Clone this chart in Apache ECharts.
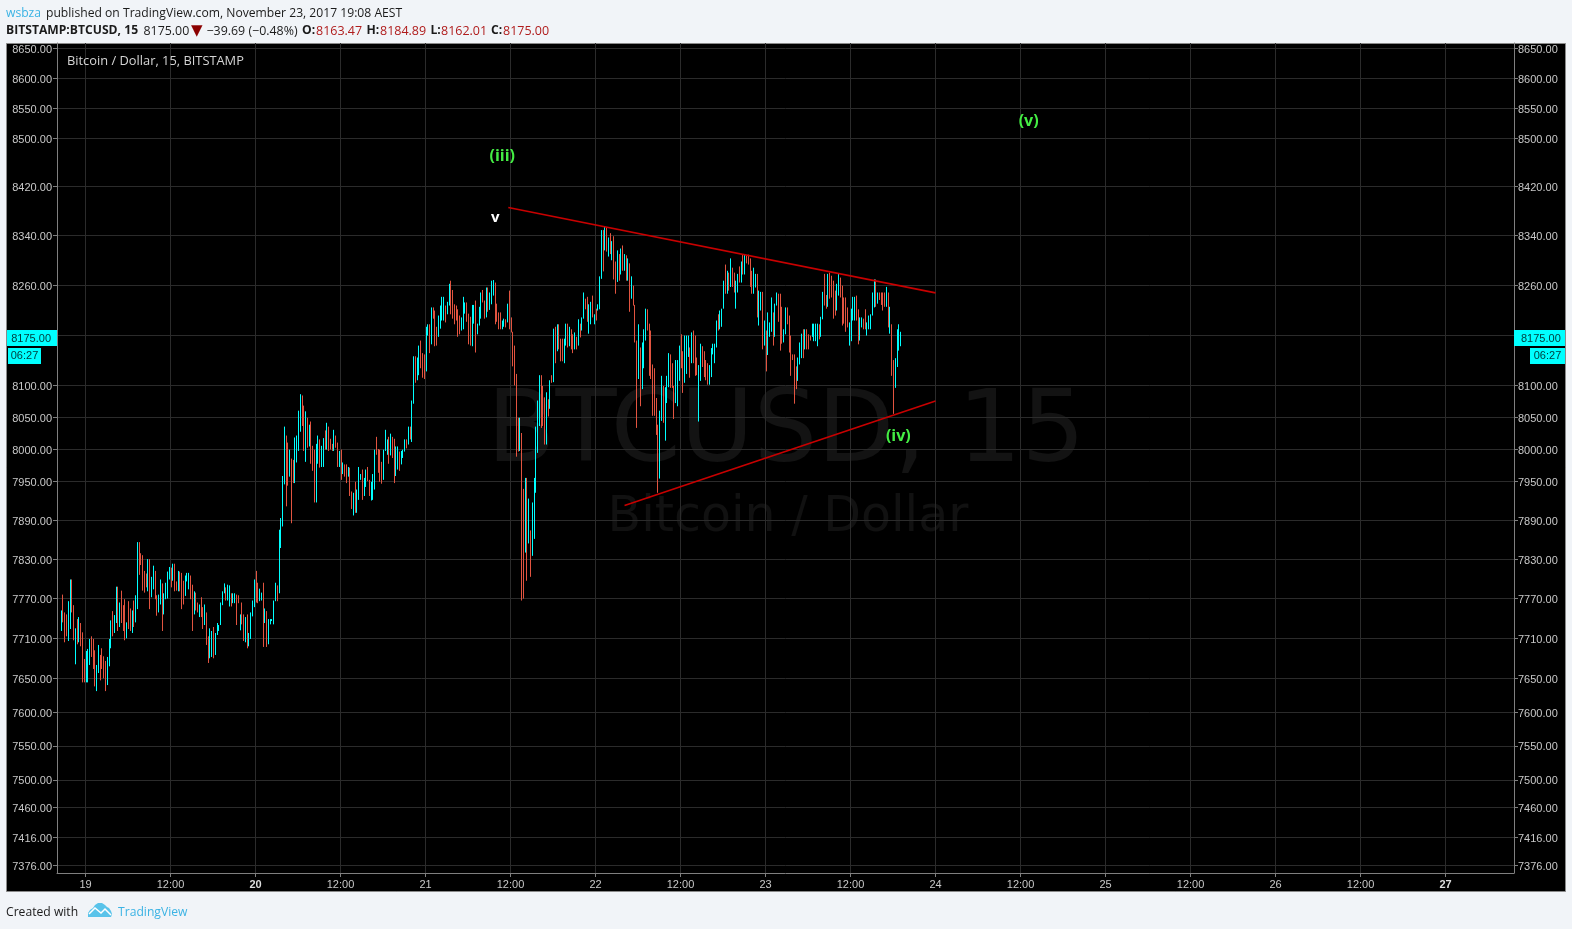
<!DOCTYPE html>
<html>
<head>
<meta charset="utf-8">
<title>BITSTAMP:BTCUSD, 15</title>
<style>
html,body{margin:0;padding:0;background:#f1f4f8;width:1572px;height:929px;overflow:hidden}
#chart{width:1572px;height:929px}
</style>
<script src="https://cdn.jsdelivr.net/npm/echarts@6/dist/echarts.min.js"></script>
</head>
<body>
<div id="chart"></div>
<script>
// 15-minute bars, first bar 18 Nov 2017 20:30 AEST
var highs = [
7752,7776,7749,7746,7766,7799,7799,7760,7725,7739,
7742,7733,7719,7679,7691,7694,7709,7713,7709,7692,
7670,7700,7685,7695,7683,7676,7682,7709,7737,7751,
7745,7788,7788,7764,7782,7760,7769,7734,7766,7755,
7752,7767,7775,7856,7856,7839,7836,7812,7808,7830,
7830,7803,7820,7812,7775,7776,7799,7793,7778,7794,
7811,7818,7817,7823,7823,7796,7812,7811,7809,7797,
7805,7809,7809,7805,7791,7781,7779,7764,7761,7772,
7757,7761,7749,7713,7725,7721,7727,7718,7733,7730,
7764,7781,7793,7787,7791,7790,7778,7778,7778,7776,
7775,7746,7764,7746,7742,7746,7718,7749,7767,7799,
7812,7794,7785,7779,7794,7755,7751,7739,7739,7739,
7767,7794,7790,7875,7893,7958,8035,8021,8010,7999,
7985,7983,8018,8021,8060,8086,8084,8068,8059,8049,
8038,8043,8005,7999,8008,8021,8015,8005,8017,8029,
8041,8035,8016,8008,8030,8021,8010,7997,7999,7979,
7976,7976,7972,7971,7934,7932,7949,7937,7972,7961,
7968,7955,7968,7972,7952,7949,7961,7999,8019,8000,
7999,7980,7999,8030,8015,8019,8024,8019,8016,8004,
8004,7996,7997,7999,8015,8015,8035,8035,8076,8146,
8146,8144,8163,8171,8151,8149,8193,8197,8197,8224,
8224,8219,8193,8211,8227,8241,8241,8227,8233,8262,
8267,8252,8229,8227,8221,8211,8208,8241,8232,8232,
8214,8209,8228,8228,8235,8198,8225,8248,8252,8235,
8256,8256,8248,8267,8268,8264,8230,8216,8216,8203,
8206,8205,8230,8251,8208,8185,8163,8118,8049,8049,
8025,7938,7955,7955,7923,7874,7917,7955,8035,8076,
8116,8116,8099,8081,8089,8078,8108,8116,8190,8193,
8197,8197,8174,8174,8174,8198,8198,8193,8189,8181,
8184,8177,8205,8198,8208,8248,8238,8241,8229,8233,
8243,8213,8222,8229,8274,8349,8349,8354,8354,8337,
8344,8331,8339,8298,8316,8310,8319,8324,8310,8308,
8303,8295,8274,8259,8228,8171,8197,8160,8168,8189,
8222,8221,8198,8187,8133,8127,8080,8038,8060,8115,
8099,8097,8115,8151,8149,8135,8099,8140,8140,8163,
8181,8154,8179,8179,8179,8160,8184,8187,8179,8144,
8132,8166,8162,8154,8140,8135,8132,8159,8166,8166,
8203,8213,8219,8222,8267,8293,8283,8280,8303,8288,
8280,8267,8278,8290,8298,8309,8309,8308,8309,8303,
8283,8288,8278,8278,8251,8249,8249,8203,8187,8216,
8200,8240,8216,8230,8248,8246,8246,8225,8189,8224,
8224,8211,8179,8149,8149,8130,8144,8168,8182,8189,
8189,8189,8181,8179,8198,8198,8198,8198,8197,8209,
8249,8278,8244,8278,8280,8275,8267,8251,8262,8278,
8272,8259,8240,8240,8224,8200,8222,8241,8241,8243,
8221,8208,8208,8206,8221,8200,8211,8213,8248,8269,
8269,8248,8248,8248,8248,8248,8257,8248,8225,8197,
8140,8143,8189,8197,8185];
var lows = [
7721,7734,7704,7713,7706,7724,7749,7707,7671,7701,
7704,7698,7644,7644,7644,7644,7670,7682,7664,7638,
7631,7658,7647,7664,7650,7631,7640,7668,7695,7713,
7718,7733,7721,7727,7733,7721,7707,7710,7724,7721,
7718,7727,7734,7754,7806,7821,7782,7779,7787,7781,
7754,7772,7784,7769,7744,7749,7761,7721,7746,7769,
7770,7799,7787,7797,7781,7782,7781,7781,7754,7761,
7774,7796,7784,7769,7721,7746,7752,7749,7742,7742,
7724,7730,7700,7673,7680,7682,7680,7685,7715,7721,
7730,7760,7778,7767,7767,7758,7758,7763,7763,7730,
7763,7722,7731,7706,7704,7695,7698,7709,7743,7757,
7764,7763,7766,7767,7697,7733,7697,7701,7731,7736,
7731,7766,7766,7778,7847,7880,7945,7911,7943,7957,
7885,7947,7947,7979,7997,8027,8036,7997,7980,8002,
8004,7977,7966,7917,7917,7977,7971,7972,7972,7999,
7999,7997,7999,7997,7997,8002,7972,7972,7952,7961,
7957,7947,7957,7927,7907,7897,7901,7901,7921,7952,
7921,7927,7941,7950,7927,7920,7921,7937,7991,7963,
7949,7946,7952,7997,7991,7977,7990,7986,7947,7958,
7968,7966,7976,7986,7996,8001,8007,8015,8011,8071,
8104,8108,8116,8127,8112,8110,8122,8179,8151,8165,
8206,8162,8163,8177,8190,8203,8203,8200,8213,8227,
8213,8206,8197,8203,8177,8181,8187,8189,8214,8201,
8165,8163,8162,8198,8152,8181,8195,8206,8232,8206,
8208,8217,8220,8229,8243,8197,8201,8189,8189,8189,
8193,8192,8200,8189,8184,8130,8100,7988,7996,7997,
7767,7770,7840,7797,7854,7803,7835,7861,7932,7994,
8036,8033,8036,8007,8007,8051,8063,8104,8105,8135,
8154,8157,8138,8138,8135,8163,8160,8162,8157,8151,
8157,8157,8163,8176,8187,8206,8221,8201,8182,8197,
8208,8197,8203,8219,8221,8270,8282,8316,8314,8306,
8310,8300,8269,8246,8265,8267,8277,8283,8283,8267,
8267,8217,8238,8227,8168,8033,8110,8067,8094,8127,
8171,8187,8115,8110,8052,8052,8022,7932,7954,8044,
8041,8013,8072,8097,8096,8096,8047,8072,8067,8107,
8127,8088,8104,8118,8145,8112,8135,8135,8115,8116,
8043,8107,8129,8113,8108,8101,8101,8113,8149,8135,
8160,8187,8189,8193,8222,8246,8246,8251,8257,8257,
8248,8222,8248,8264,8264,8277,8277,8295,8293,8257,
8246,8246,8256,8208,8195,8219,8157,8163,8122,8148,
8177,8185,8163,8177,8227,8201,8155,8166,8168,8181,
8197,8152,8115,8140,8071,8094,8107,8133,8143,8143,
8157,8157,8157,8171,8177,8170,8170,8162,8173,8177,
8205,8227,8222,8225,8238,8240,8206,8211,8219,8243,
8240,8195,8198,8185,8192,8163,8170,8203,8203,8203,
8165,8171,8192,8189,8189,8179,8189,8189,8211,8224,
8225,8230,8236,8228,8219,8225,8225,8192,8182,8115,
8055,8096,8129,8155,8162];
// u = up bar (cyan), d = down bar (red)
var directions = [
"u d d d u u d d u d","u d d d u u u d d d","u u d d d d u u u d","u u d u d d d u d d",
"u d u u d d d d d u","d u u d d u u d u u","u u d u d d u d d d","u u u d d u d d u d",
"d u d d u u d u u u","u u u d u u d u u d","d u d d u d u u u u","d d u u d u d u u u",
"u u d u u u u d d u","d d u u u u d d u d","u d d d u u d u u d","u d d d u d d u d u",
"d d u d d u d u u u","d u u d d u u u d d","d d u u u d u d d u","u d u u u d u d u u",
"d u u d d d u u d u","d d d u u u u d u u","d d d d d d u u u d","d d u u d u u u d d",
"u d u u u d d d d u","u d u d d d d d d u","d d u d u d u u u u","u d d d u d u d u d",
"u d d d u u d u d d","u d u d u u d d u u","d u d u u u d u d u","d u d d u d u d u d",
"u d u d d d u d u u","u d d d d d d d u u","d u u u d d d u u u","d d u u u d u d d d",
"u u d d d d u u u u","u d u u u d u d u d","d u u d u d u d d d","d u u d u u d u d u",
"u u d u u d d d u u","d d d d d d u u u d","u d d d u u u u d u","u d d u d d d d u u",
"d d d d d u u u u d","d u u d d u u u u u","d u d d d d u d u d","d u u u u"
].join(" ").split(" ");
if (highs.length !== lows.length || highs.length !== directions.length) {
  throw new Error("lengths " + highs.length + " " + lows.length + " " + directions.length);
}
var priceTicks = [8650,8600,8550,8500,8420,8340,8260,8180,8100,8050,8000,7950,7890,7830,7770,7710,7650,7600,7550,7500,7460,7416,7376];
var timeTickLabels = ["19","12:00","20","12:00","21","12:00","22","12:00","23","12:00","24","12:00","25","12:00","26","12:00","27"];
var boldTimeLabels = ["20","27"];
var resistanceLine = [[new Date(2017,10,21,11,41).getTime(),8385.8],[new Date(2017,10,24,0,0).getTime(),8247.4]];
var supportLine = [[new Date(2017,10,22,4,6).getTime(),7912.5],[new Date(2017,10,24,0,0).getTime(),8075.2]];
var waveLabels = [
 {name:"(iii)",value:[new Date(2017,10,21,10,50).getTime(),8469],color:"#44ee44"},
 {name:"(v)",value:[new Date(2017,10,24,13,9).getTime(),8527],color:"#44ee44"},
 {name:"(iv)",value:[new Date(2017,10,23,18,45).getTime(),8019.5],color:"#44ee44"},
 {name:"v",value:[new Date(2017,10,21,9,51).getTime(),8369.3],color:"#ffffff"}
];
var lastPrice = 8175;

var firstBar = new Date(2017,10,18,20,30).getTime();
var QUARTER = 15*60*1000, DAY0 = new Date(2017,10,19).getTime(), H12 = 12*3600*1000;
var bars = highs.map(function(h,i){ return [firstBar+i*QUARTER, h, lows[i], directions[i]==="u"?1:0]; });
var timeTicks = timeTickLabels.map(function(_,i){ return DAY0+i*H12; });
var UI = "'Liberation Sans', Arial, sans-serif";
var HEAD = "'Open Sans', sans-serif";
var chart = echarts.init(document.getElementById("chart"), null, {renderer:"canvas"});
function priceAxis(position, grid, margin){
  return {type:"log",logBase:10,position:position,min:7365,max:8659.3,scale:true,
    axisLine:{show:true,onZero:false,lineStyle:{color:"#7f7f7f",width:1}},
    axisTick:{show:true,length:4,lineStyle:{color:"#7f7f7f"},customValues:priceTicks},
    axisLabel:{show:true,color:"#c8c8c8",fontFamily:UI,fontSize:11,margin:margin,customValues:priceTicks,
      formatter:function(v){return "{p|"+Math.round(v).toFixed(2)+"}";},
      rich:{p:{color:"#c8c8c8",fontFamily:UI,fontSize:11,padding:[3,0,0,0]}}},
    minorTick:{show:false},minorSplitLine:{show:false},
    splitLine:{show:grid,lineStyle:{color:"#2b2b2b",width:1}}};
}
var option = {
  animation:false,
  backgroundColor:"#f1f4f8",
  grid:{left:57,right:58,top:43,bottom:56,containLabel:false},
  xAxis:{type:"value",min:new Date(2017,10,18,19,58,30).getTime(),max:new Date(2017,10,27,9,40).getTime(),
    axisLine:{show:true,onZero:false,lineStyle:{color:"#7f7f7f"}},
    axisTick:{show:true,length:4,lineStyle:{color:"#7f7f7f"},customValues:timeTicks},
    axisLabel:{show:true,color:"#c8c8c8",fontFamily:UI,fontSize:11,margin:6,customValues:timeTicks,hideOverlap:false,
      formatter:function(v){var i=Math.round((v-DAY0)/H12);var s=timeTickLabels[i];return boldTimeLabels.indexOf(s)>=0?"{b|"+s+"}":s;},
      rich:{b:{fontWeight:"bold",fontFamily:UI,fontSize:11,color:"#dcdcdc"}}},
    splitLine:{show:true,lineStyle:{color:"#2b2b2b",width:1}}},
  yAxis:[priceAxis("left",true,5),priceAxis("right",false,4)],
  series:[
    {type:"custom",name:"BTCUSD",xAxisIndex:0,yAxisIndex:0,data:bars,encode:{x:0,y:[1,2]},clip:true,z:3,
     renderItem:function(params,api){
       var t=api.value(0),a=api.coord([t,api.value(1)]),b=api.coord([t,api.value(2)]);
       var x=Math.round(a[0])+0.5;
       return {type:"line",silent:true,shape:{x1:x,y1:a[1],x2:x,y2:b[1]},
         style:{stroke:api.value(3)?"#00ffff":"#e25440",lineWidth:1,fill:null}};
     }},
    {type:"line",name:"resistance",data:resistanceLine,showSymbol:false,symbol:"none",silent:true,z:4,lineStyle:{color:"#c80000",width:1.6}},
    {type:"line",name:"support",data:supportLine,showSymbol:false,symbol:"none",silent:true,z:4,lineStyle:{color:"#c80000",width:1.6}},
    {type:"scatter",name:"waves",symbolSize:1,silent:true,z:5,itemStyle:{color:"transparent",opacity:1},
     data:waveLabels.map(function(w){return {name:w.name,value:w.value,label:{show:true,position:"inside",opacity:1,formatter:w.name,color:w.color,fontFamily:"'Open Sans', sans-serif",fontWeight:"bold",fontSize:w.name==="v"?15:16}};})}
  ]
};
chart.setOption(option);

var yLast = chart.convertToPixel({yAxisIndex:0}, lastPrice);
function txt(x,y,text,extra){
  var s = {x:x,y:y,text:text,font:"12.15px "+HEAD,fill:"#1b1b1b",textVerticalAlign:"middle"};
  for (var k in extra) s[k]=extra[k];
  return {type:"text",silent:true,z:100,style:s};
}
var BOLD = {font:"bold 12.15px "+HEAD};
var RED = {font:"12.5px "+HEAD,fill:"#b01c1c"};
var VAL = {font:"12.4px "+HEAD};
var LINE1 = 13.5, LINE2 = 31;
chart.setOption({graphic:{elements:[
  {type:"rect",silent:true,z:-100,shape:{x:6.5,y:43.5,width:1559,height:848},style:{fill:"#000000",stroke:"#8a8a8a",lineWidth:1}},
  {type:"text",silent:true,z:-50,style:{x:786,y:435,text:"BTCUSD, 15",textAlign:"center",textVerticalAlign:"middle",font:"100px 'DejaVu Sans'",fill:"#131313"}},
  {type:"text",silent:true,z:-50,style:{x:788,y:518,text:"Bitcoin / Dollar",textAlign:"center",textVerticalAlign:"middle",font:"49px 'DejaVu Sans'",fill:"#111111"}},
  txt(6,LINE1,"wsbza",{fill:"#3bb3e4"}),
  txt(46,LINE1,"published on TradingView.com, November 23, 2017 19:08 AEST",{}),
  txt(6,LINE2,"BITSTAMP:BTCUSD, 15",BOLD),
  txt(143.5,LINE2,"8175.00",VAL),
  txt(191,LINE2,"▼",{font:"15px 'DejaVu Sans'",fill:"#8b0000"}),
  txt(206.5,LINE2,"−39.69 (−0.48%)",VAL),
  txt(302,LINE2,"O:",BOLD),txt(316,LINE2,"8163.47",RED),
  txt(366.5,LINE2,"H:",BOLD),txt(380,LINE2,"8184.89",RED),
  txt(430.5,LINE2,"L:",BOLD),txt(441,LINE2,"8162.01",RED),
  txt(491,LINE2,"C:",BOLD),txt(503,LINE2,"8175.00",RED),
  txt(67,61,"Bitcoin / Dollar, 15, BITSTAMP",{font:"12.85px "+HEAD,fill:"#d4d4d4"}),
  {type:"rect",silent:true,z:90,shape:{x:7,y:yLast-8,width:50,height:16},style:{fill:"#00ffff"}},
  {type:"rect",silent:true,z:90,shape:{x:8,y:yLast+10,width:33,height:16},style:{fill:"#00ffff"}},
  {type:"rect",silent:true,z:90,shape:{x:1514,y:yLast-8,width:51,height:16},style:{fill:"#00ffff"}},
  {type:"rect",silent:true,z:90,shape:{x:1530,y:yLast+10,width:35,height:16},style:{fill:"#00ffff"}},
  txt(51,yLast+1,"8175.00",{font:"11px "+UI,fill:"#003a3a",textAlign:"right"}),
  txt(24.5,yLast+18,"06:27",{font:"11px "+UI,fill:"#003a3a",textAlign:"center"}),
  txt(1521,yLast+1,"8175.00",{font:"11px "+UI,fill:"#003a3a"}),
  txt(1547.5,yLast+18,"06:27",{font:"11px "+UI,fill:"#003a3a",textAlign:"center"}),
  txt(6,912.5,"Created with",{}),
  {type:"polygon",silent:true,z:100,shape:{points:[[88,917],[88,913],[90,910],[93,908],[95,905],[98,903],[102,903],[105,905],[107,907],[109,908],[111,911],[112,914],[111,917]]},style:{fill:"#59c3ea"}},
  {type:"polyline",silent:true,z:101,shape:{points:[[89,914],[95,908],[101,913],[105,909],[111,915]]},style:{stroke:"#ffffff",lineWidth:1.5,fill:null}},
  txt(118,912.5,"TradingView",{fill:"#3bb3e4"})
]}});
</script>
</body>
</html>
